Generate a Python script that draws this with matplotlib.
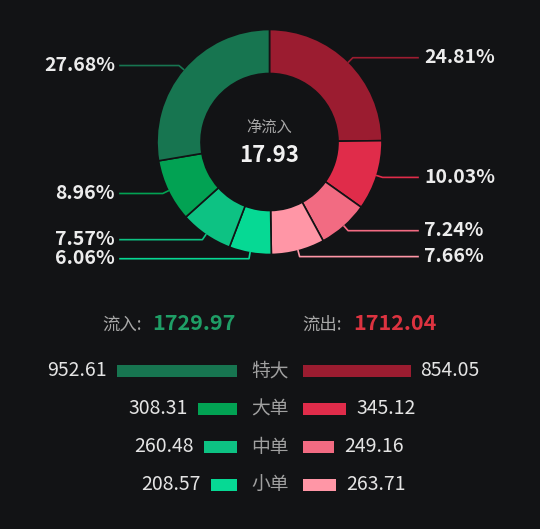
import numpy as np
import matplotlib.pyplot as plt

plt.rcParams['font.family'] = ['Noto Sans CJK SC', 'DejaVu Sans']

# data
categories = ['特大', '大单', '中单', '小单']
inflow = [952.61, 308.31, 260.48, 208.57]
outflow = [854.05, 345.12, 249.16, 263.71]
net_label = '净流入'
in_label = '流入:'
out_label = '流出:'

green = ['#177550', '#02a253', '#0dc283', '#06d994']
red = ['#9b1c30', '#e02c4a', '#f26b82', '#ff96a6']
bg = '#121315'

# ring order, clockwise from top: outflow big->small, then inflow small->big
ring_vals = outflow + inflow[::-1]
ring_cols = red + green[::-1]
total = sum(ring_vals)
pcts = [v / total * 100 for v in ring_vals]

fig = plt.figure(figsize=(5.4, 5.29), dpi=100, facecolor=bg)
ax = fig.add_axes([0, 0, 1, 1])
ax.set_facecolor(bg)

cx, cy, r, w = 269.5, 142, 112.5, 44
# y axis runs downward, so counterclockwise in data = clockwise on screen
wedges, _ = ax.pie(ring_vals, colors=ring_cols, radius=r, center=(cx, cy),
                   startangle=-90, counterclock=True,
                   wedgeprops=dict(width=w, edgecolor=bg, linewidth=1.2))
ax.set_xlim(0, 540)
ax.set_ylim(529, 0)
ax.set_aspect('auto')
ax.axis('off')

# percent labels with leader lines
cum = 0
for p, col in zip(pcts, ring_cols):
    mid = np.deg2rad(-90 + (cum + p / 2) * 3.6)
    cum += p
    x0, y0 = cx + r * np.cos(mid), cy + r * np.sin(mid)
    x1, y1 = cx + (r + 6) * np.cos(mid), cy + (r + 6) * np.sin(mid)
    if x0 >= cx:
        ax.plot([x0, x1, 418], [y0, y1, y1], color=col, lw=1.2)
        ax.text(424, y1, f'{p:.2f}%', color='#ececec', fontsize=14,
                fontweight='bold', ha='left', va='center')
    else:
        ax.plot([x0, x1, 120], [y0, y1, y1], color=col, lw=1.2)
        ax.text(115, y1, f'{p:.2f}%', color='#ececec', fontsize=14,
                fontweight='bold', ha='right', va='center')

net = sum(inflow) - sum(outflow)
ax.text(cx, 127, net_label, color='#a8a8a8', fontsize=11, ha='center', va='center')
ax.text(cx, 155, f'{net:.2f}', color='#f2f2f2', fontsize=16, fontweight='bold',
        ha='center', va='center')

# totals
ax.text(102, 325, in_label, color='#a8a8a8', fontsize=12.5, ha='left', va='center')
ax.text(152, 324, f'{sum(inflow):.2f}', color='#1f9e66', fontsize=15.5,
        fontweight='bold', ha='left', va='center')
ax.text(302, 325, out_label, color='#a8a8a8', fontsize=12.5, ha='left', va='center')
ax.text(353, 324, f'{sum(outflow):.2f}', color='#dc3340', fontsize=15.5,
        fontweight='bold', ha='left', va='center')

# bars
scale = 120 / max(inflow + outflow)
rows = [371, 409, 447, 485]
gl, rl = 237, 303
ax.barh(rows, [v * scale for v in inflow], left=[gl - v * scale for v in inflow],
        height=12, color=green)
ax.barh(rows, [v * scale for v in outflow], left=rl, height=12, color=red)
for y, c, vi, vo in zip(rows, categories, inflow, outflow):
    ax.text(270, y, c, color='#a0a0a0', fontsize=13.5, ha='center', va='center')
    ax.text(gl - vi * scale - 10, y, f'{vi:.2f}', color='#e4e4e4', fontsize=14,
            ha='right', va='center')
    ax.text(rl + vo * scale + 10, y, f'{vo:.2f}', color='#e4e4e4', fontsize=14,
            ha='left', va='center')

fig.savefig('out.png', dpi=100, facecolor=bg)
